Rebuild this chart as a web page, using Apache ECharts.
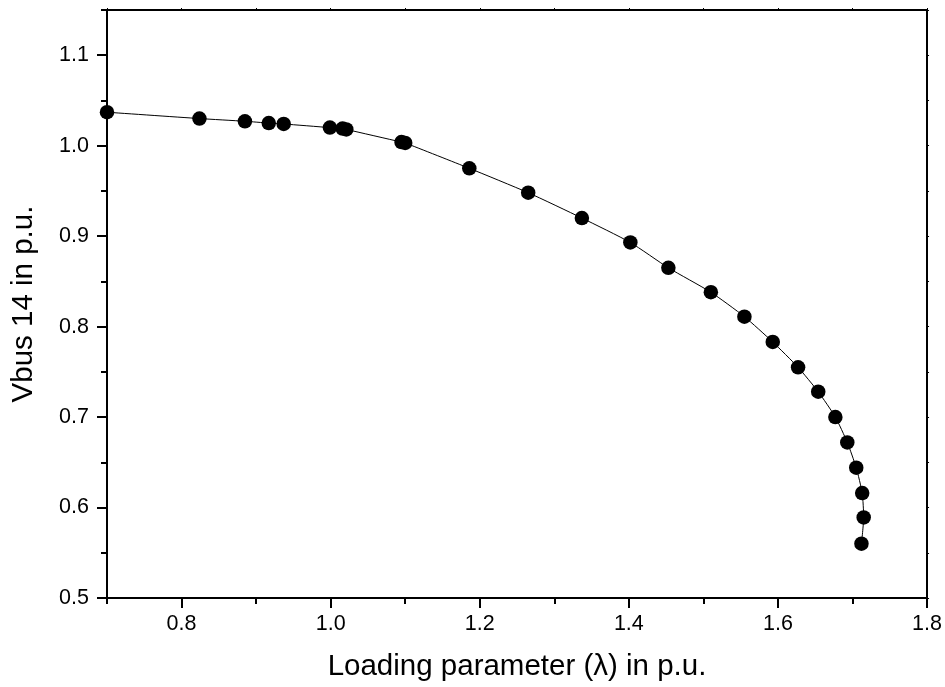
<!DOCTYPE html>
<html>
<head>
<meta charset="utf-8">
<script src="https://cdn.jsdelivr.net/npm/echarts@6/dist/echarts.min.js"></script>
<style>html,body{margin:0;padding:0;background:#fff}#c{width:945px;height:687px}</style>
</head>
<body>
<div id="c"></div>
<script>
const lambdaValues = [0.700, 0.824, 0.885, 0.917, 0.937, 0.999, 1.016, 1.021, 1.095, 1.100, 1.186, 1.265, 1.337, 1.402, 1.453, 1.510, 1.555, 1.593, 1.627, 1.654, 1.677, 1.693, 1.705, 1.713, 1.715, 1.712];
const vbusValues = [1.037, 1.030, 1.027, 1.025, 1.024, 1.020, 1.019, 1.018, 1.004, 1.003, 0.975, 0.948, 0.920, 0.893, 0.865, 0.838, 0.811, 0.783, 0.755, 0.728, 0.700, 0.672, 0.644, 0.616, 0.589, 0.560];
const xTickLabels = [0.8, 1.0, 1.2, 1.4, 1.6, 1.8];
const yTickLabels = [0.5, 0.6, 0.7, 0.8, 0.9, 1.0, 1.1];

const data = lambdaValues.map((x, i) => [x, vbusValues[i]]);
const font = 'Liberation Sans, Arial, sans-serif';
const chart = echarts.init(document.getElementById('c'), null, {renderer: 'canvas'});
const axisLine = {show: true, onZero: false, lineStyle: {color: '#000', width: 2}};
chart.setOption({
  animation: false,
  backgroundColor: '#fff',
  grid: {left: 107, right: 16, top: 10, bottom: 87, containLabel: false},
  xAxis: [
    {
      type: 'value', min: 0.7, max: 1.8, position: 'bottom',
      name: 'Loading parameter (\u03bb) in p.u.', nameLocation: 'middle', nameGap: 54,
      nameTextStyle: {fontFamily: font, fontSize: 29.5, color: '#000'},
      axisLine: axisLine,
      axisTick: {show: true, customValues: xTickLabels, length: 10, inside: false, lineStyle: {color: '#000', width: 2}},
      axisLabel: {show: true, customValues: xTickLabels, margin: 15, fontFamily: font, fontSize: 21.5, color: '#000',
        formatter: v => v.toFixed(1)},
      splitLine: {show: false}
    },
    {
      type: 'value', min: 0.7, max: 1.8, interval: 0.1, position: 'bottom', gridIndex: 0,
      axisLine: {show: false}, axisLabel: {show: false}, splitLine: {show: false},
      axisTick: {show: true, length: 6, lineStyle: {color: '#000', width: 2}}
    },
    {
      type: 'value', min: 0.7, max: 1.8, interval: 0.1, position: 'top',
      axisLine: axisLine, axisLabel: {show: false}, splitLine: {show: false},
      axisTick: {show: true, length: 2, lineStyle: {color: '#000', width: 1}}
    }
  ],
  yAxis: [
    {
      type: 'value', min: 0.5, max: 1.15, position: 'left',
      name: 'Vbus 14 in p.u.', nameLocation: 'middle', nameGap: 68, nameRotate: 90,
      nameTextStyle: {fontFamily: font, fontSize: 29.5, color: '#000'},
      axisLine: axisLine,
      axisTick: {show: true, customValues: yTickLabels, length: 10, lineStyle: {color: '#000', width: 2}},
      axisLabel: {show: true, customValues: yTickLabels, margin: 18, fontFamily: font, fontSize: 21.5, color: '#000',
        formatter: v => v.toFixed(1)},
      splitLine: {show: false}
    },
    {
      type: 'value', min: 0.5, max: 1.15, interval: 0.05, position: 'left',
      axisLine: {show: false}, axisLabel: {show: false}, splitLine: {show: false},
      axisTick: {show: true, length: 6, lineStyle: {color: '#000', width: 2}}
    },
    {
      type: 'value', min: 0.5, max: 1.15, interval: 0.05, position: 'right',
      axisLine: axisLine, axisLabel: {show: false}, splitLine: {show: false},
      axisTick: {show: true, length: 2, lineStyle: {color: '#000', width: 1}}
    }
  ],
  series: [{
    type: 'line', xAxisIndex: 0, yAxisIndex: 0, data: data,
    symbol: 'circle', symbolSize: 14.5, smooth: 0.2,
    lineStyle: {color: '#000', width: 1},
    itemStyle: {color: '#000'},
    clip: false
  }]
});
</script>
</body>
</html>
